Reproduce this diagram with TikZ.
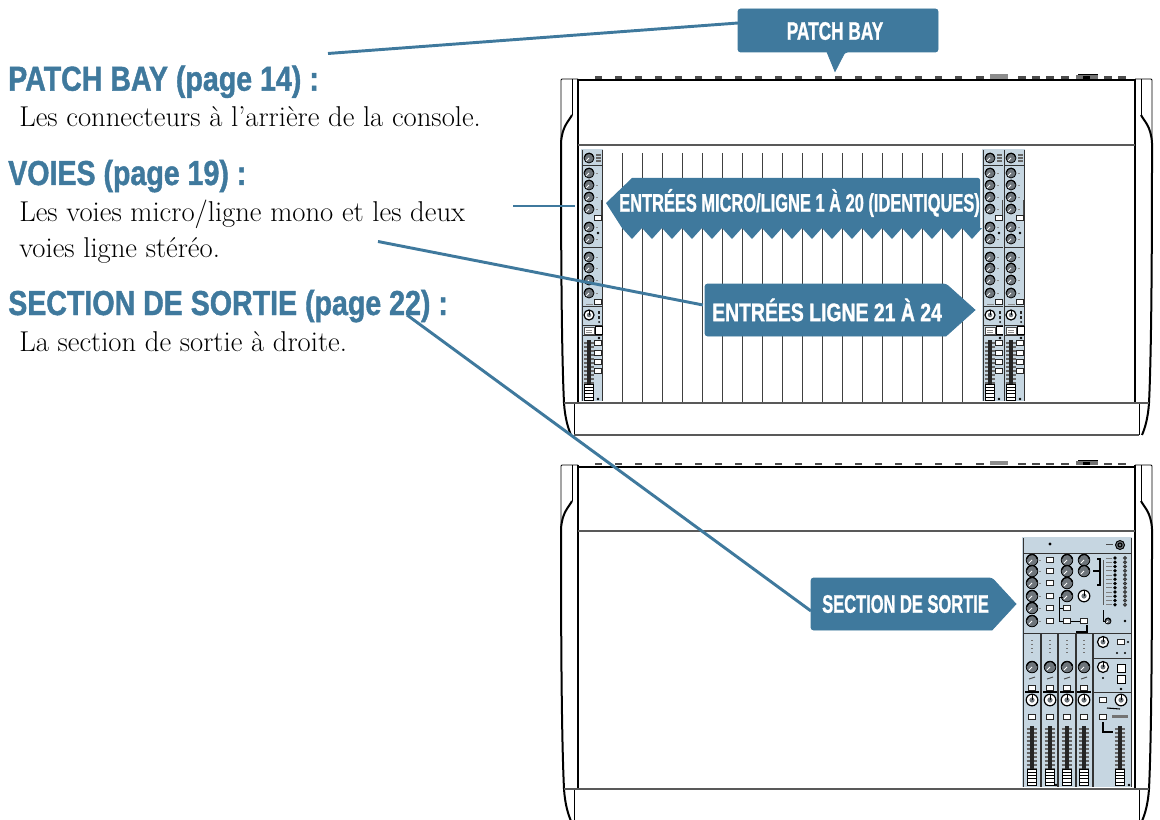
\documentclass[tikz,border=0pt]{standalone}
\usepackage{fontspec}
\setmainfont{Latin Modern Roman}
\newfontfamily\headf[FakeStretch=0.824,FakeBold=1.2]{Liberation Sans}
\definecolor{cal}{HTML}{3F799D}
\definecolor{pan}{HTML}{C6D6E1}
\definecolor{kn}{HTML}{6E757B}
\tikzset{
  calbox/.style={fill=cal,draw=cal,line width=0.6pt,rounded corners=2pt},
  calline/.style={draw=cal,line width=2.2pt},
  caltext/.style={text=white,inner sep=0pt,font=\headf\bfseries\fontsize{19}{22}\selectfont},
  headtext/.style={text=cal,anchor=base west,inner sep=0pt,font=\headf\bfseries\fontsize{26}{29}\selectfont},
  bodytext/.style={text=black,anchor=base west,inner sep=0pt,font=\fontsize{21.5}{24}\selectfont},
  hull/.style={line width=0.7pt,draw=black},
  hullthick/.style={line width=1.5pt,draw=black},
  mid/.style={line width=0.9pt,draw=black!65},
  chan/.style={line width=0.7pt,draw=black!75},
  swt/.style={fill=white,draw=black!85,line width=0.5pt},
  lab/.style={draw=black!45,line width=0.35pt},
  sep/.style={draw=black!80,line width=0.5pt},
}
% knob: x, y, radius
\newcommand\knobd[3]{\fill[kn,draw=black,line width=0.6pt] (#1,#2) circle (#3);
  \draw[white,line width=0.6pt] (#1,#2) -- ++(-0.55*#3,0.55*#3);
  \draw[black,line width=0.7pt] (#1,#2) ++(-0.9*#3,-0.2*#3) arc (190:350:0.9*#3);}
\newcommand\knobl[3]{\fill[white,draw=black,line width=0.9pt] (#1,#2) circle (#3);
  \fill[kn] (#1,#2) circle (0.45*#3);
  \draw[black,line width=0.7pt] (#1,#2) -- ++(0,-#3);}
\newcommand\sw[3]{\draw[swt] (#1-#3,#2-2.4) rectangle (#1+#3,#2+2.4);}
\newcommand\capf[3]{% x, ytop, half width
  \fill[white,draw=black,line width=0.6pt] (#1-#3,#2) rectangle (#1+#3,#2+16.5);
  \foreach \s in {3.3,6.6,9.9,13.2}{\draw[black,line width=0.8pt] (#1-#3,#2+\s) -- (#1+#3,#2+\s);}}
\newcommand\slot[3]{% x, y1, y2
  \foreach \s in {0,4,...,40}{\draw[black!60,line width=0.9pt] (#1-5.5,#2+3+\s) -- (#1+4.5,#2+3+\s);}
  \fill[black!85] (#1-1.7,#2) rectangle (#1+1.7,#3);
}
\newcommand\mixstrip[1]{\begin{scope}[shift={(#1,0)}]
  \fill[pan] (0,149) rectangle (22,401);
  \draw[sep] (1,150) -- (1,401) (21.5,150) -- (21.5,401);
  \draw[sep] (1,165) -- (21.5,165) (1,247) -- (21.5,247) (1,306) -- (21.5,306) (1,325) -- (21.5,325) (1,335) -- (21.5,335);
  \knobd{8}{158}{5}
  \foreach \y in {173,185,197,209,227,239,257,268,280,293}{\knobd{8}{\y}{5}\draw[lab] (14.5,\y) -- (17,\y);}
  \foreach \y in {155,158,161}{\draw[black!60,line width=0.8pt] (15,\y) -- (20,\y);}
  \draw[black!70,line width=1pt] (20.5,200) -- (20.5,215);
  \sw{17}{218}{3.5}
  \fill[black] (17,233) circle (1.3);
  \sw{17}{302}{3.5}
  \draw[lab] (5,304) -- (12,304);
  \knobl{8}{315}{5}
  \fill[black!85] (17,311) rectangle (19,314); \fill[black!85] (17,316) rectangle (19,319);
  \fill[black] (18,322) circle (1);
  \draw[fill=white,draw=black!70,line width=0.4pt] (3,327) rectangle (13,334);
  \draw[lab] (5,330) -- (11,330) (5,332) -- (11,332);
  \draw[fill=white,draw=black,line width=0.5pt] (14.5,326.5) rectangle (21,334);
  \fill[black] (18,338) circle (1.4);
  \slot{8}{340}{385}
  \foreach \y in {343,353,362,371}{\sw{17}{\y}{3.5}}
  \capf{8}{384}{4.5}
  \fill[black] (17,399) circle (1.3);
\end{scope}}
\newcommand\sidepanel[1]{\begin{scope}[shift={(0,#1)}]
  \draw[hull] (578,79) -- (562,79) -- (561,80) -- (561,143);
  \draw[hull] (572,79) -- (572,115);
  \draw[hullthick] (572,115) .. controls (569,121) and (562,126) .. (561,143)
     .. controls (561,250) and (561.5,350) .. (564,403) .. controls (565,418) and (568,428) .. (571,435);
  \draw[hull] (574,403) -- (574,435);
  \draw[hullthick] (578,79) -- (578,403);
\end{scope}}
\newcommand\console[1]{\begin{scope}[shift={(0,#1)}]
  \sidepanel{0}
  \begin{scope}[shift={(1713,0)},xscale=-1]\sidepanel{0}\end{scope}
  \draw[line width=1.5pt] (578,80.5) -- (1135,80.5);
  \draw[mid] (578,145) -- (1135,145);
  \draw[mid] (564,403) -- (1149,403);
  \draw[mid,line width=1.2pt] (574,435) -- (1139,435);
  \foreach \x in {598,618,...,958}{\fill[black!70] (\x-3.5,76.5) rectangle (\x+3.5,79);}
  \fill[black!70] (976,76.5) rectangle (984,79);
  \fill[black!45] (990,74.5) rectangle (1008,79);
  \foreach \x in {1022,1036,1050,1065,1108,1122}{\fill[black!70] (\x-4,76.5) rectangle (\x+4,79);}
  \fill[black!55] (1076,75) rectangle (1098,79);
  \fill[black] (1083,76) rectangle (1090,79);
  \draw[black,line width=0.7pt] (1078,74) -- (1098,74);
\end{scope}}
\begin{document}
\begin{tikzpicture}[x=0.75pt,y=-0.75pt]
\useasboundingbox (0,0) rectangle (1160,820);
\clip (0,0) rectangle (1160,820);
\console{0}
\console{386}
\foreach \x in {622,642,...,962}{\draw[chan] (\x,153) -- (\x,402);}
\mixstrip{581}\mixstrip{982}\mixstrip{1003}
% output section
\fill[pan] (1022,537) rectangle (1132,787);
\draw[sep] (1023,538) -- (1023,787) (1131,538) -- (1131,787);
\draw[sep] (1023,553) -- (1131,553) (1023,633) -- (1131,633) (1093,658) -- (1131,658) (1093,692) -- (1131,692);
\foreach \x in {1041,1058,1076,1093}{\draw[sep,line width=0.8pt] (\x,633) -- (\x,787);}
\fill[black] (1050,544) circle (1.6);
\draw[black!70,line width=0.6pt] (1106,544) -- (1113,544);
\fill[kn,draw=black,line width=0.7pt] (1120,545) circle (4.5); \draw[black,line width=0.8pt] (1120,545) circle (2);
\foreach \y in {560,571,583,596,608,621}{\knobd{1032}{\y}{5.8}\draw[lab] (1039,\y) -- (1041,\y);\sw{1050}{\y}{3.8}}
\foreach \y in {560,571,583,596}{\knobd{1067}{\y}{5.8}}
\foreach \y in {560,571}{\knobd{1084}{\y}{5.8}}
\knobl{1084}{596}{5.8}
\sw{1067}{608}{3.8}\sw{1067}{621}{3.8}\sw{1084}{621}{3.8}
\draw[black,line width=0.7pt] (1063,597) -- (1059,597) -- (1059,621) -- (1063,621) (1059,608) -- (1063,608) (1071,621) -- (1080,621);
\draw[black,line width=0.8pt] (1076,632) -- (1087,632) -- (1087,625);
\draw[black,line width=0.9pt] (1097,559) -- (1100,559) -- (1100,585) -- (1097,585) (1100,571) -- (1093,571);
\draw[black!65,line width=0.7pt] (1103,560) -- (1103,605);
\foreach \i in {0,...,11}{
  \fill[black] (1115,558+\i*4.25) circle (1.8);
  \draw[black!80,line width=0.8pt] (1125,558+\i*4.25) circle (1.3);
  \draw[black!50,line width=0.5pt] (1106,558+\i*4.25) -- (1112,558+\i*4.25);}
\draw[black,line width=0.7pt] (1103,610) -- (1103,621) -- (1107,621);
\knobd{1108}{621}{3}
\fill[black] (1125,621) circle (1.3);
\foreach \x in {1032,1050,1067,1084}{
  \foreach \y in {640,644,648,652}{\fill[black!55] (\x-0.6,\y) rectangle (\x+0.6,\y+1.2);}
  \knobd{\x}{667}{5.8}
  \draw[black!70,line width=0.7pt] (\x-3,679) -- (\x+3,677);
  \sw{\x}{688}{3.5}
  \draw[line width=1.2pt] (\x-7,692) -- (\x+7,692);
  \knobl{\x}{700}{5.8}
  \sw{\x}{717}{3.5}
  \slot{\x}{726}{770}
  \capf{\x}{769}{4.5}
}
\knobl{1103}{642}{5.5}
\sw{1121}{642}{3.8}\fill[black] (1128,642) circle (1.2);
\fill[black] (1117,653) circle (1.2); \fill[black] (1125,653) circle (1.2);
\knobl{1103}{667}{5.5}
\draw[fill=white,draw=black,line width=0.6pt] (1117,664) rectangle (1125,672);
\draw[fill=white,draw=black,line width=0.6pt] (1117,675) rectangle (1125,683);
\fill[black] (1103,678) circle (1.2); \fill[black] (1121,689) circle (1.4);
\sw{1103}{700}{3.8}
\knobl{1121}{700}{5.8}
\sw{1103}{717}{3.8}
\draw[black,line width=0.8pt] (1107,708) -- (1120,709);
\draw[black,line width=0.8pt] (1103,722) -- (1103,732) -- (1113,732);
\fill[black!55] (1112,715) rectangle (1128,718);
\slot{1120}{726}{770}
\capf{1120}{769}{4.5}
\fill[black] (1129,785) circle (1.3);
\fill[black] (1056,785) circle (1.3);
% left-hand text
\node[headtext] (h1) at (8,90.7) {PATCH BAY (page 14) :};
\node[bodytext] (b1) at (19,126.7) {Les connecteurs à l’arrière de la console.};
\node[headtext] (h2) at (8,185) {VOIES (page 19) :};
\node[bodytext] (b2) at (19,221.7) {Les voies micro/ligne mono et les deux};
\node[bodytext] (b3) at (19,257) {voies ligne stéréo.};
\node[headtext] (h3) at (8,315) {SECTION DE SORTIE (page 22) :};
\node[bodytext] (b4) at (19,351) {La section de sortie à droite.};
% connector ends
\coordinate (c1) at (328,53.5);
\coordinate (c2) at (513,206);
\coordinate (c2e) at (575,206);
\coordinate (c3) at (378,241.5);
\coordinate (c4) at (407,315);
% callouts
\draw[calbox] (738,9) -- (938,9) -- (938,52) -- (845,52) [sharp corners] -- (835,71.5) -- (827,52) [rounded corners=2pt] -- (738,52) -- cycle;
\node[caltext] (pb) at (835,31) {\scalebox{.827}[1]{PATCH BAY}};
\path[fill=cal] (606,203) -- (632,178) -- (978,178) to[out=0,in=90] (980,180) -- (980,228)
  \foreach \x in {972,952,...,632}{ -- (\x+10,228) -- (\x,239) -- (\x-10,228)} -- cycle;
\node[caltext] (mic) at (799.5,203) {\scalebox{.787}[1]{ENTRÉES MICRO/LIGNE 1 À 20 (IDENTIQUES)}};
\draw[calbox] (705,284) -- (946,284) [sharp corners] -- (975,310) -- (946,336) [rounded corners=2pt] -- (705,336) -- cycle;
\node[caltext] (lig) at (827,310) {\scalebox{.93}[1]{ENTRÉES LIGNE 21 À 24}};
\draw[calbox] (811,578) -- (992,578) [sharp corners] -- (1016,604) -- (992,630) [rounded corners=2pt] -- (811,630) -- cycle;
\node[caltext] (sec) at (905.5,604) {\scalebox{.789}[1]{SECTION DE SORTIE}};
\coordinate (pbw) at (738,23);
\coordinate (ligw) at (703,305);
\coordinate (secw) at (811,611);
\draw[calline] (c1) -- (pbw);
\draw[calline] (c2) -- (c2e);
\draw[calline] (c3) -- (ligw);
\draw[calline] (c4) -- (secw);
\end{tikzpicture}
\end{document}
